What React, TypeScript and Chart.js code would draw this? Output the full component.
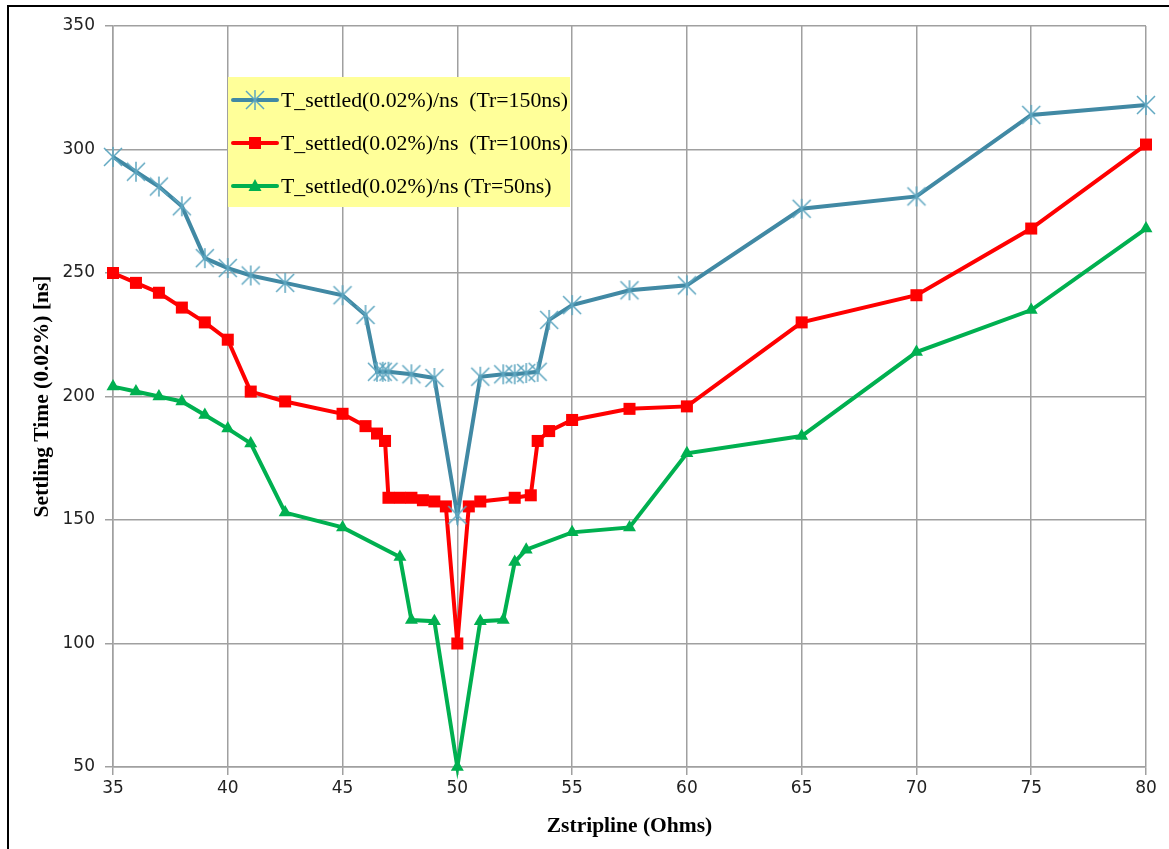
import React, { useEffect, useRef } from 'react';
import { Chart, registerables } from 'chart.js';

Chart.register(...registerables);

// ---- data ----
const xTickValues = [35, 40, 45, 50, 55, 60, 65, 70, 75, 80];
const yTickValues = [50, 100, 150, 200, 250, 300, 350];

const z150 = [35, 36, 37, 38, 39, 40, 41, 42.5, 45, 46, 46.5, 46.75, 47, 48, 49, 50, 51, 52, 52.5, 53, 53.5, 54, 55, 57.5, 60, 65, 70, 75, 80];
const t150 = [297, 291, 285, 277, 256, 252, 249, 246, 241, 233, 210, 210, 210, 209, 207.5, 152, 208, 209, 209, 209.5, 210, 231, 237, 243, 245, 276, 281, 314, 318];

const z100 = [35, 36, 37, 38, 39, 40, 41, 42.5, 45, 46, 46.5, 46.85, 47, 47.5, 48, 48.5, 49, 49.5, 50, 50.5, 51, 52.5, 53.2, 53.5, 54, 55, 57.5, 60, 65, 70, 75, 80];
const t100 = [250, 246, 242, 236, 230, 223, 202, 198, 193, 188, 185, 182, 159, 159, 159, 158, 157.5, 155.5, 100, 155.5, 157.5, 159, 160, 182, 186, 190.5, 195, 196, 230, 241, 268, 302];

const z50 = [35, 36, 37, 38, 39, 40, 41, 42.5, 45, 47.5, 48, 49, 50, 51, 52, 52.5, 53, 55, 57.5, 60, 65, 70, 75, 80];
const t50 = [204, 202, 200, 198, 192.5, 187, 181, 153, 147, 135, 109.5, 109, 50, 109, 109.5, 133, 138, 145, 147, 177, 184, 218, 235, 268];

const seriesLabels = [
  'T_settled(0.02%)/ns  (Tr=150ns)',
  'T_settled(0.02%)/ns  (Tr=100ns)',
  'T_settled(0.02%)/ns (Tr=50ns)',
];
const xTitle = 'Zstripline (Ohms)';
const yTitle = 'Settling Time (0.02%) [ns]';

const BLUE = '#4189A4';
const BLUE_MARK = '#5EA6C0';
const RED = '#FF0000';
const GREEN = '#00B050';

function makeStar(): HTMLCanvasElement {
  const c = document.createElement('canvas');
  c.width = 22;
  c.height = 22;
  const g = c.getContext('2d')!;
  g.strokeStyle = BLUE_MARK;
  g.lineWidth = 1.5;
  g.beginPath();
  g.moveTo(2, 2); g.lineTo(20, 20);
  g.moveTo(20, 2); g.lineTo(2, 20);
  g.moveTo(11, 1); g.lineTo(11, 21);
  g.stroke();
  return c;
}

export default function App() {
  const ref = useRef<HTMLCanvasElement>(null);
  useEffect(() => {
    const star = makeStar();
    const tickFont = { family: 'DejaVu Sans', size: 17 };
    const titleFont = { family: 'Liberation Serif', size: 21.5, weight: 'bold' as const };
    const legendPlugin = {
      id: 'boxLegend',
      afterDraw(chart: any) {
        const ctx = chart.ctx as CanvasRenderingContext2D;
        ctx.save();
        ctx.fillStyle = '#FFFF99';
        ctx.fillRect(228, 77, 342, 130);
        const rows = [100, 143, 186];
        const colors = [BLUE, RED, GREEN];
        rows.forEach((y, i) => {
          ctx.strokeStyle = colors[i];
          ctx.lineWidth = 4;
          ctx.lineCap = 'round';
          ctx.beginPath();
          ctx.moveTo(233, y);
          ctx.lineTo(277, y);
          ctx.stroke();
          if (i === 0) {
            ctx.drawImage(star, 255 - 11, y - 11);
          } else if (i === 1) {
            ctx.fillStyle = RED;
            ctx.fillRect(249, y - 6, 12, 12);
          } else {
            ctx.fillStyle = GREEN;
            ctx.beginPath();
            ctx.moveTo(255, y - 7);
            ctx.lineTo(261.5, y + 5);
            ctx.lineTo(248.5, y + 5);
            ctx.closePath();
            ctx.fill();
          }
          ctx.fillStyle = '#000';
          ctx.font = '21.8px "Liberation Serif"';
          ctx.textBaseline = 'middle';
          ctx.textAlign = 'left';
          ctx.fillText(seriesLabels[i], 281, y + 1);
        });
        ctx.restore();
      },
    };

    const chart = new Chart(ref.current!, {
      type: 'line',
      data: {
        datasets: [
          {
            label: seriesLabels[0],
            data: z150.map((x, i) => ({ x, y: t150[i] })),
            borderColor: BLUE,
            backgroundColor: BLUE_MARK,
            borderWidth: 4,
            pointStyle: star as any,
            pointRadius: 10,
            clip: false as any,
          },
          {
            label: seriesLabels[1],
            data: z100.map((x, i) => ({ x, y: t100[i] })),
            borderColor: RED,
            backgroundColor: RED,
            borderWidth: 4,
            pointStyle: 'rect',
            pointRadius: 8.5,
            pointBorderWidth: 0,
            clip: false as any,
          },
          {
            label: seriesLabels[2],
            data: z50.map((x, i) => ({ x, y: t50[i] })),
            borderColor: GREEN,
            backgroundColor: GREEN,
            borderWidth: 4,
            pointStyle: 'triangle',
            pointRadius: 7.5,
            pointBorderWidth: 0,
            clip: false as any,
          },
        ],
      },
      options: {
        animation: false,
        responsive: false,
        layout: { padding: { top: 26, right: 23, left: 0, bottom: 0 } },
        plugins: { legend: { display: false }, tooltip: { enabled: false } },
        scales: {
          x: {
            type: 'linear',
            min: 35,
            max: 80,
            afterBuildTicks: (s: any) => { s.ticks = xTickValues.map((v) => ({ value: v })); },
            afterFit: (s: any) => { s.height = 82; },
            ticks: { font: tickFont, color: '#222', padding: 3, maxRotation: 0 },
            grid: { color: '#a0a0a0', lineWidth: 1.5, tickLength: 8 },
            border: { color: '#a0a0a0', width: 1.5 },
            title: { display: true, text: xTitle, font: titleFont, color: '#000', padding: { top: 0, bottom: 10 } },
          },
          y: {
            type: 'linear',
            min: 50,
            max: 350,
            afterBuildTicks: (s: any) => { s.ticks = yTickValues.map((v) => ({ value: v })); },
            afterFit: (s: any) => { s.width = 113; },
            ticks: { font: tickFont, color: '#222', padding: 10 },
            grid: { color: '#a0a0a0', lineWidth: 1.5, tickLength: 8 },
            border: { color: '#a0a0a0', width: 1.5 },
            title: { display: true, text: yTitle, font: titleFont, color: '#000', padding: { top: 30, bottom: 0 } },
          },
        },
      },
      plugins: [legendPlugin],
    });
    return () => chart.destroy();
  }, []);

  return (
    <div style={{ position: 'fixed', left: 0, top: 0, width: 1169, height: 849, background: '#fff', overflow: 'hidden' }}>
      <div style={{ position: 'absolute', left: 7, top: 5, width: 1300, height: 1000, border: '2px solid #000' }} />
      <canvas ref={ref} width={1169} height={849} style={{ position: 'absolute', left: 0, top: 0, width: 1169, height: 849 }} />
    </div>
  );
}
